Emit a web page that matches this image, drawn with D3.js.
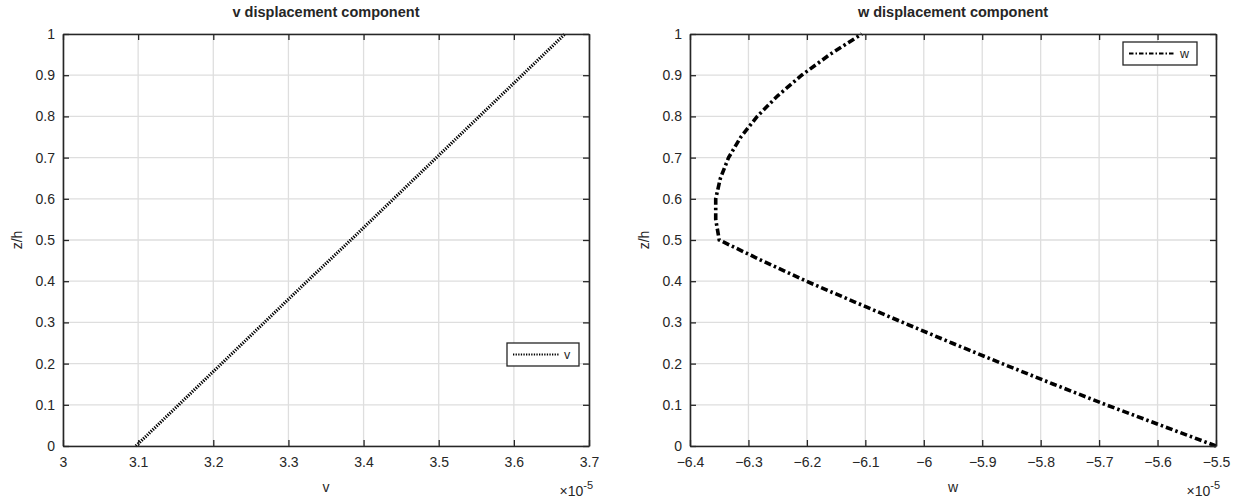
<!DOCTYPE html>
<html>
<head>
<meta charset="utf-8">
<script src="https://cdn.jsdelivr.net/npm/d3@7"></script>
<style>
  html, body { margin: 0; padding: 0; background: #fff; }
  svg text { font-family: "Liberation Sans", Arial, Helvetica, sans-serif; fill: #262626; }
</style>
</head>
<body>
<svg id="chart" width="1237" height="500"></svg>
<script>
// ---- data (values in units of 1e-5) ----
const zLevels = [0, 0.1, 0.2, 0.3, 0.4, 0.5, 0.6, 0.7, 0.8, 0.9, 1.0];
const vValues = [3.097, 3.154, 3.211, 3.268, 3.325, 3.383, 3.440, 3.497, 3.554, 3.611, 3.668];

const wZ = [0, 0.05, 0.1, 0.15, 0.2, 0.25, 0.3, 0.35, 0.4, 0.45, 0.5,
            0.55, 0.6, 0.65, 0.7, 0.75, 0.8, 0.85, 0.9, 0.95, 1.0];
const wValues = [-5.500, -5.594, -5.688, -5.778, -5.866, -5.952, -6.036, -6.119, -6.201, -6.277, -6.350,
                 -6.356, -6.356, -6.348, -6.334, -6.313, -6.285, -6.250, -6.209, -6.161, -6.106];

const vTicks = [3, 3.1, 3.2, 3.3, 3.4, 3.5, 3.6, 3.7];
const wTicks = [-6.4, -6.3, -6.2, -6.1, -6, -5.9, -5.8, -5.7, -5.6, -5.5];
const zTicks = [0, 0.1, 0.2, 0.3, 0.4, 0.5, 0.6, 0.7, 0.8, 0.9, 1];

const panels = [
  { title: "v displacement component", xlabel: "v", legend: "v",
    xs: vValues, ys: zLevels, domain: [3, 3.7], ticks: vTicks,
    left: 63, right: 589, dash: "1.3,1.3", width: 3.2, lgWidth: 2.2, lgDash: "1.3,1.3",
    legendBox: { x: 507, y: 343, w: 72, h: 23 } },
  { title: "w displacement component", xlabel: "w", legend: "w",
    xs: wValues, ys: wZ, domain: [-6.4, -5.5], ticks: wTicks,
    left: 690, right: 1216, dash: "7,3,2.5,3", width: 3.6, lgWidth: 2, lgDash: "4.5,2,1.5,2",
    legendBox: { x: 1123, y: 42, w: 74, h: 23 } }
];

const plotTop = 34, plotBottom = 446;
const svg = d3.select("#chart");
const axisColor = "#262626";
const gridColor = "#dedede";

function fmt(d) { return d3.format("")(+d.toFixed(2)); }

panels.forEach(p => {
  const x = d3.scaleLinear().domain(p.domain).range([p.left, p.right]);
  const y = d3.scaleLinear().domain([0, 1]).range([plotBottom, plotTop]);
  const g = svg.append("g");

  // grid
  g.append("g").selectAll("line").data(p.ticks).join("line")
    .attr("x1", d => x(d)).attr("x2", d => x(d))
    .attr("y1", plotTop).attr("y2", plotBottom)
    .attr("stroke", gridColor).attr("stroke-width", 1.3);
  g.append("g").selectAll("line").data(zTicks).join("line")
    .attr("y1", d => y(d)).attr("y2", d => y(d))
    .attr("x1", p.left).attr("x2", p.right)
    .attr("stroke", gridColor).attr("stroke-width", 1.3);

  // data line
  const pts = p.xs.map((v, i) => [v, p.ys[i]]);
  g.append("path").datum(pts)
    .attr("fill", "none").attr("stroke", "#000")
    .attr("stroke-width", p.width).attr("stroke-dasharray", p.dash)
    .attr("d", d3.line().x(d => x(d[0])).y(d => y(d[1])));

  // axes (ticks inside)
  const tl = 6;
  const xb = g.append("g").attr("transform", `translate(0,${plotBottom})`)
    .call(d3.axisBottom(x).tickValues(p.ticks).tickSize(-tl).tickSizeOuter(0).tickPadding(11).tickFormat(fmt));
  const xt = g.append("g").attr("transform", `translate(0,${plotTop})`)
    .call(d3.axisTop(x).tickValues(p.ticks).tickSize(-tl).tickSizeOuter(0).tickFormat(""));
  const yl = g.append("g").attr("transform", `translate(${p.left},0)`)
    .call(d3.axisLeft(y).tickValues(zTicks).tickSize(-tl).tickSizeOuter(0).tickPadding(8).tickFormat(fmt));
  const yr = g.append("g").attr("transform", `translate(${p.right},0)`)
    .call(d3.axisRight(y).tickValues(zTicks).tickSize(-tl).tickSizeOuter(0).tickFormat(""));
  [xb, xt, yl, yr].forEach(a => {
    a.select(".domain").attr("stroke", axisColor).attr("stroke-width", 1.6);
    a.selectAll(".tick line").attr("stroke", axisColor).attr("stroke-width", 1.3);
    a.selectAll("text").attr("font-size", 14).style("fill", axisColor)
      .attr("font-family", '"Liberation Sans", Arial, sans-serif');
  });

  // title
  g.append("text").attr("x", (p.left + p.right) / 2).attr("y", 17)
    .attr("text-anchor", "middle").attr("font-size", 14.5).attr("font-weight", "bold")
    .text(p.title);

  // x label
  g.append("text").attr("x", (p.left + p.right) / 2).attr("y", 492)
    .attr("text-anchor", "middle").attr("font-size", 14).text(p.xlabel);

  // exponent
  const ex = g.append("text").attr("x", p.right + 4).attr("y", 496)
    .attr("text-anchor", "end").attr("font-size", 14);
  ex.append("tspan").text("\u00d710");
  ex.append("tspan").attr("dy", -7).attr("font-size", 11).text("-5");

  // y label
  g.append("text")
    .attr("transform", `translate(${p.left - 41},${(plotTop + plotBottom) / 2}) rotate(-90)`)
    .attr("text-anchor", "middle").attr("font-size", 14).text("z/h");

  // legend
  const lb = p.legendBox;
  g.append("rect").attr("x", lb.x).attr("y", lb.y).attr("width", lb.w).attr("height", lb.h)
    .attr("fill", "#fff").attr("stroke", axisColor).attr("stroke-width", 1.3);
  g.append("line").attr("x1", lb.x + 6).attr("x2", lb.x + 52)
    .attr("y1", lb.y + lb.h / 2).attr("y2", lb.y + lb.h / 2)
    .attr("stroke", "#000").attr("stroke-width", p.lgWidth)
    .attr("stroke-dasharray", p.lgDash);
  g.append("text").attr("x", lb.x + 57).attr("y", lb.y + lb.h / 2 + 4.5)
    .attr("font-size", 12.5).text(p.legend);
});
</script>
</body>
</html>
